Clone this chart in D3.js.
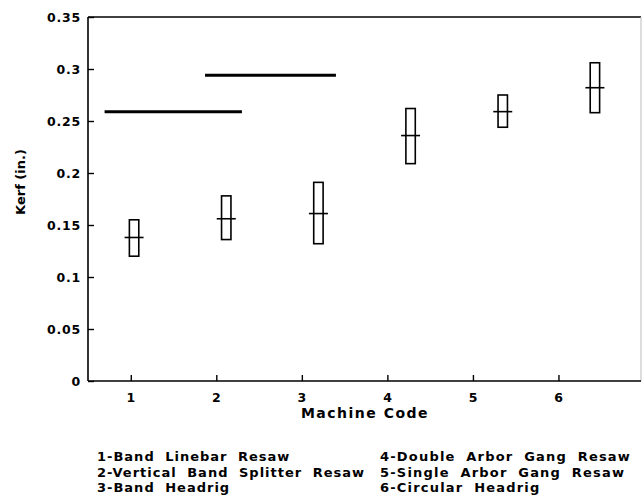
<!DOCTYPE html>
<html>
<head>
<meta charset="utf-8">
<script src="https://cdn.jsdelivr.net/npm/d3@7"></script>
<style>
  body { margin: 0; background: #fff; }
  svg text { font-family: "DejaVu Sans", "Liberation Sans", sans-serif; font-weight: bold; fill: #000; }
</style>
</head>
<body>
<svg width="642" height="503"></svg>
<script>
// machine codes and kerf stats (in.)
var codes = [1, 2, 3, 4, 5, 6];
var kerfMean = [0.138, 0.156, 0.161, 0.236, 0.259, 0.282];
var kerfLow  = [0.120, 0.136, 0.132, 0.209, 0.244, 0.258];
var kerfHigh = [0.155, 0.178, 0.191, 0.262, 0.275, 0.306];

// horizontal bars over groups: [from, to, kerf]
var groupStart = [0.68, 1.77];
var groupEnd   = [2.17, 3.19];
var groupKerf  = [0.259, 0.294];

var yTicks = [0, 0.05, 0.1, 0.15, 0.2, 0.25, 0.3, 0.35];
var legendLeft  = ['1-Band Linebar Resaw', '2-Vertical Band Splitter Resaw', '3-Band Headrig'];
var legendRight = ['4-Double Arbor Gang Resaw', '5-Single Arbor Gang Resaw', '6-Circular Headrig'];

var svg = d3.select('svg');

var plotLeft = 88, plotRight = 641, plotTop = 17, plotBottom = 381;

var scaleY = d3.scaleLinear().domain([0, 0.35]).range([plotBottom, plotTop]);
// the tick labels and the marks sit on slightly different spacings in the original
var scaleXTicks = d3.scaleLinear().domain([0.5, 7]).range([plotLeft, 644]);
var scaleX = d3.scaleLinear().domain([0.5, 6.5]).range([plotLeft, plotRight]);

var data = codes.map(function(c, i){
  return {code: c, mean: kerfMean[i], low: kerfLow[i], high: kerfHigh[i]};
});
var groups = groupKerf.map(function(k, i){
  return {x0: groupStart[i], x1: groupEnd[i], y: k};
});

// frame
svg.append('line')
  .attr('x1', plotLeft).attr('x2', plotRight)
  .attr('y1', plotTop).attr('y2', plotTop)
  .attr('stroke', '#000').attr('stroke-width', 1.6);
svg.append('line')
  .attr('x1', plotRight).attr('x2', plotRight)
  .attr('y1', plotTop).attr('y2', plotBottom)
  .attr('stroke', '#bbb').attr('stroke-width', 1);

// axes
var yAxis = svg.append('g')
  .attr('transform', 'translate(' + plotLeft + ',0)')
  .call(d3.axisLeft(scaleY).tickValues(yTicks).tickSize(-6).tickPadding(7)
    .tickFormat(function(d){ return d === 0 ? '0' : String(+d.toFixed(2)); }));

var xAxis = svg.append('g')
  .attr('transform', 'translate(0,' + plotBottom + ')')
  .call(d3.axisBottom(scaleXTicks).tickValues(codes).tickSize(-6).tickPadding(12)
    .tickFormat(d3.format('d')));

svg.selectAll('.domain').attr('stroke', '#000').attr('stroke-width', 1.6);
xAxis.select('.domain').attr('d', 'M' + plotLeft + ',0H' + plotRight);
yAxis.select('.domain').attr('d', 'M0,' + plotBottom + 'V' + plotTop);
svg.selectAll('.tick line').attr('stroke', '#000').attr('stroke-width', 1.4);
svg.selectAll('.tick text')
  .attr('font-size', 12.5)
  .attr('letter-spacing', 0.8)
  .attr('font-family', '"DejaVu Sans", sans-serif')
  .attr('font-weight', 'bold')
  .attr('fill', '#000');

// group lines
svg.selectAll('.grp')
  .data(groups)
  .enter()
  .append('line')
  .attr('class', 'grp')
  .attr('x1', function(d){ return scaleX(d.x0); })
  .attr('x2', function(d){ return scaleX(d.x1); })
  .attr('y1', function(d){ return scaleY(d.y); })
  .attr('y2', function(d){ return scaleY(d.y); })
  .attr('stroke', '#000')
  .attr('stroke-width', 3);

// range boxes
svg.selectAll('.box')
  .data(data)
  .enter()
  .append('rect')
  .attr('class', 'box')
  .attr('x', function(d){ return scaleX(d.code) - 4.7; })
  .attr('width', 9.4)
  .attr('y', function(d){ return scaleY(d.high); })
  .attr('height', function(d){ return scaleY(d.low) - scaleY(d.high); })
  .attr('fill', 'none')
  .attr('stroke', '#000')
  .attr('stroke-width', 1.6);

// mean marks
svg.selectAll('.mean')
  .data(data)
  .enter()
  .append('line')
  .attr('class', 'mean')
  .attr('x1', function(d){ return scaleX(d.code) - 9.5; })
  .attr('x2', function(d){ return scaleX(d.code) + 9.5; })
  .attr('y1', function(d){ return scaleY(d.mean); })
  .attr('y2', function(d){ return scaleY(d.mean); })
  .attr('stroke', '#000')
  .attr('stroke-width', 1.6);

// titles
svg.append('text')
  .attr('transform', 'translate(25,' + 182 + ') rotate(-90)')
  .attr('text-anchor', 'middle')
  .attr('font-size', 13)
  .text('Kerf (in.)');

svg.append('text')
  .attr('x', 365)
  .attr('y', 418)
  .attr('text-anchor', 'middle')
  .attr('font-size', 14)
  .attr('letter-spacing', 1.5)
  .text('Machine Code');

// legend
svg.selectAll('.legL')
  .data(legendLeft)
  .enter()
  .append('text')
  .attr('class', 'legL')
  .attr('x', 97)
  .attr('y', function(d, i){ return 461 + i * 15.5; })
  .attr('font-size', 13)
  .attr('letter-spacing', 1)
  .attr('word-spacing', 5)
  .text(function(d){ return d; });

svg.selectAll('.legR')
  .data(legendRight)
  .enter()
  .append('text')
  .attr('class', 'legR')
  .attr('x', 380)
  .attr('y', function(d, i){ return 461 + i * 15.5; })
  .attr('font-size', 13)
  .attr('letter-spacing', 1.2)
  .attr('word-spacing', 5)
  .text(function(d){ return d; });
</script>
</body>
</html>
